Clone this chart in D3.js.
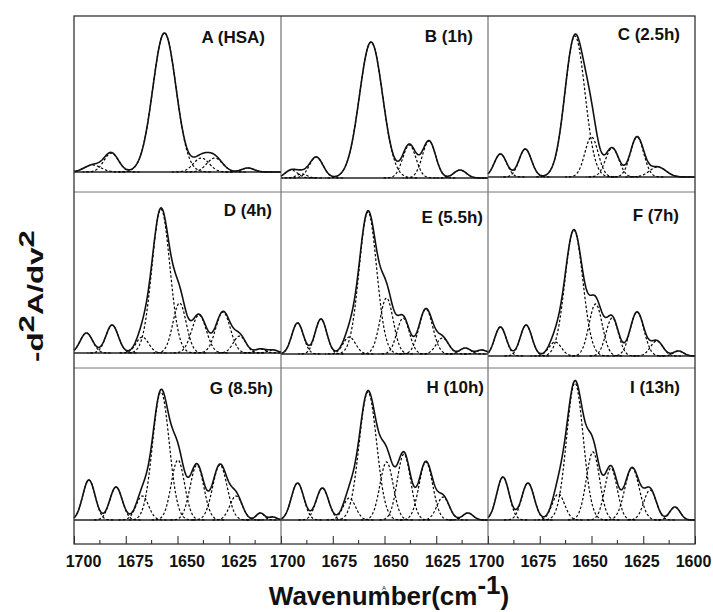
<!DOCTYPE html>
<html>
<head>
<meta charset="utf-8">
<script src="https://cdn.jsdelivr.net/npm/d3@7"></script>
<style>
  body { margin: 0; background: #fff; }
  text { font-family: "Liberation Sans", Arial, sans-serif; font-weight: bold; fill: #111; }
</style>
</head>
<body>
<svg id="chart" width="713" height="612"></svg>
<script>
// Panel titles and y-axis lower limits (a.u.)
const panelNames = ["A (HSA)", "B (1h)", "C (2.5h)", "D (4h)", "E (5.5h)", "F (7h)", "G (8.5h)", "H (10h)", "I (13h)"];
const yMin = [-20, -14, -15, -15, -14, -12, -24, -24, -24];

// Fitted component bands per panel: [centre (cm-1), height (a.u.), sigma (cm-1)]
const bandsA = [[1691, 7, 4], [1682, 19, 3.5], [1656.3, 139, 5.6], [1638.5, 14, 3.8], [1632, 14, 3.8], [1616, 4, 3]];
const bandsB = [[1695, 8, 3], [1690, 4, 2.5], [1683, 21, 3.3], [1656.5, 136, 5.6], [1638, 33, 3.2], [1628.5, 37, 3.2], [1613.5, 8, 3]];
const bandsC = [[1694, 23, 3], [1682, 28, 3], [1658, 141, 4.8], [1650, 40, 3.2], [1640, 29, 3.2], [1628, 40, 3.2], [1618, 10, 4]];
const bandsD = [[1694, 20, 3], [1681.6, 28, 3], [1667, 16, 3], [1658, 144, 4.3], [1649, 50, 3.2], [1639.6, 38, 3.5], [1628, 41, 3.5], [1620, 17, 3], [1610, 4, 2.5], [1604, 3, 2.5]];
const bandsE = [[1692, 31, 2.8], [1680.7, 35, 2.8], [1667, 17, 3], [1658, 142, 4.2], [1649, 56, 3.2], [1641, 36, 3], [1630, 45, 3.3], [1622, 16, 3], [1611, 6, 2.5], [1603, 4, 2.5]];
const bandsF = [[1694, 29, 2.8], [1681.6, 31, 2.8], [1667.6, 14, 3], [1658.5, 126, 4.3], [1648, 52, 3.2], [1640, 38, 3], [1628, 44, 3.3], [1618.5, 15, 3], [1608, 5, 2.5]];
const bandsG = [[1692.8, 40, 3], [1679.7, 33, 3], [1667, 24, 3], [1658, 128, 4], [1649.8, 60, 3.2], [1640.6, 55, 3.3], [1629.5, 55, 3.5], [1621.7, 24, 3], [1610, 7, 2], [1604, 3, 2]];
const bandsH = [[1692, 37, 3], [1680, 32, 3], [1667, 22, 3], [1658, 128, 4.2], [1649, 58, 3.2], [1640.6, 66, 3.2], [1630, 58, 3.3], [1621.7, 23, 3], [1609.7, 7, 2.5]];
const bandsI = [[1692.8, 43, 3], [1680.7, 37, 3], [1666, 26, 3], [1658, 137, 4], [1649.3, 68, 3.2], [1640.6, 52, 3], [1630.4, 52, 3.5], [1621.7, 30, 3], [1609.7, 13, 2.5]];
const allBands = [bandsA, bandsB, bandsC, bandsD, bandsE, bandsF, bandsG, bandsH, bandsI];

// Axis ticks
const majorTicks = [1700, 1675, 1650, 1625, 1600];
const minorTicks = [1687.5, 1662.5, 1637.5, 1612.5];

// Layout
const frameX = 74, frameY = 16, pw = 207, ph = 176;
const titlePos = [[16, 27], [15, 26], [15, 24], [9, 24], [5, 31], [16, 29], [8, 26], [4, 25], [15, 25]];
const labelShift = [9, 6, -2];

const svg = d3.select("#chart");

const x = d3.scaleLinear().domain([1700, 1600]).range([0, pw]);
const wn = d3.range(1600, 1700.001, 0.25);
const gauss = (v, b) => b[1] * Math.exp(-((v - b[0]) ** 2) / (2 * b[2] * b[2]));

allBands.forEach(function(bands, i) {
    const col = i % 3, row = Math.floor(i / 3);
    const g = svg.append("g")
        .attr("transform", "translate(" + (frameX + col * pw) + "," + (frameY + row * ph) + ")");

    const y = d3.scaleLinear().domain([yMin[i], yMin[i] + ph]).range([ph, 0]);

    // baseline
    g.append("line")
        .attr("x1", 0).attr("x2", pw)
        .attr("y1", y(0)).attr("y2", y(0))
        .attr("stroke", "#222").attr("stroke-width", 1.4);

    // component bands (dashed)
    bands.forEach(function(b) {
        const pts = wn.filter(v => Math.abs(v - b[0]) < 4 * b[2]);
        g.append("path")
            .datum(pts)
            .attr("fill", "none")
            .attr("stroke", "#000")
            .attr("stroke-width", 1.2)
            .attr("stroke-dasharray", "2.5,2")
            .attr("d", d3.line().x(v => x(v)).y(v => y(gauss(v, b))));
    });

    // summed spectrum (solid)
    g.append("path")
        .datum(wn)
        .attr("fill", "none")
        .attr("stroke", "#111")
        .attr("stroke-width", 1.6)
        .attr("d", d3.line().x(v => x(v)).y(v => y(d3.sum(bands, b => gauss(v, b)))));

    // panel title
    g.append("text")
        .attr("x", pw - titlePos[i][0])
        .attr("y", titlePos[i][1])
        .attr("text-anchor", "end")
        .style("font-size", "17px")
        .text(panelNames[i]);

    // bottom axis for the last row
    if (row === 2) {
        const ticks = col === 2 ? majorTicks : majorTicks.slice(0, 4);
        const ax = g.append("g")
            .attr("transform", "translate(0," + ph + ")")
            .call(d3.axisBottom(x).tickValues(ticks).tickSizeInner(-8).tickSizeOuter(0)
                .tickPadding(12).tickFormat(d3.format("d")));
        ax.select(".domain").remove();
        ax.selectAll("line").attr("stroke", "#222");
        ax.selectAll("text")
            .attr("dx", labelShift[col])
            .style("font-size", "16px")
            .style("font-family", "'Liberation Sans', Arial, sans-serif")
            .style("font-weight", "bold")
            .attr("fill", "#111");
        g.selectAll(".minor")
            .data(minorTicks)
            .enter().append("line")
            .attr("x1", d => x(d)).attr("x2", d => x(d))
            .attr("y1", ph).attr("y2", ph - 4)
            .attr("stroke", "#222");
    }
});

// dividers and outer frame
for (let c = 1; c < 3; c++) {
    svg.append("line")
        .attr("x1", frameX + c * pw).attr("x2", frameX + c * pw)
        .attr("y1", frameY).attr("y2", frameY + 3 * ph)
        .attr("stroke", "#555").attr("stroke-width", 1);
}
for (let r = 1; r < 3; r++) {
    svg.append("line")
        .attr("x1", frameX).attr("x2", frameX + 3 * pw)
        .attr("y1", frameY + r * ph).attr("y2", frameY + r * ph)
        .attr("stroke", "#777").attr("stroke-width", 1);
}
svg.append("rect")
    .attr("x", frameX).attr("y", frameY)
    .attr("width", 3 * pw).attr("height", 3 * ph)
    .attr("fill", "none").attr("stroke", "#333").attr("stroke-width", 1.3);

// axis titles
const yTitle = svg.append("text")
    .attr("transform", "translate(43,296) rotate(-90) scale(1.42,1)")
    .attr("text-anchor", "middle")
    .style("font-size", "22px");
yTitle.append("tspan").text("-d");
yTitle.append("tspan").attr("dy", -9).text("2");
yTitle.append("tspan").attr("dy", 9).text("A/dv");
yTitle.append("tspan").attr("dy", -9).text("2");

const xTitle = svg.append("text")
    .attr("x", 389).attr("y", 605)
    .attr("text-anchor", "middle")
    .style("font-size", "26px");
xTitle.append("tspan").text("Wavenumber(cm");
xTitle.append("tspan").attr("dy", -11).text("-1");
xTitle.append("tspan").attr("dy", 11).text(")");

svg.append("text")
    .attr("x", 384).attr("y", 590)
    .attr("text-anchor", "middle")
    .style("font-size", "6px")
    .style("font-weight", "normal")
    .attr("fill", "#888")
    .text("A");
</script>
</body>
</html>
